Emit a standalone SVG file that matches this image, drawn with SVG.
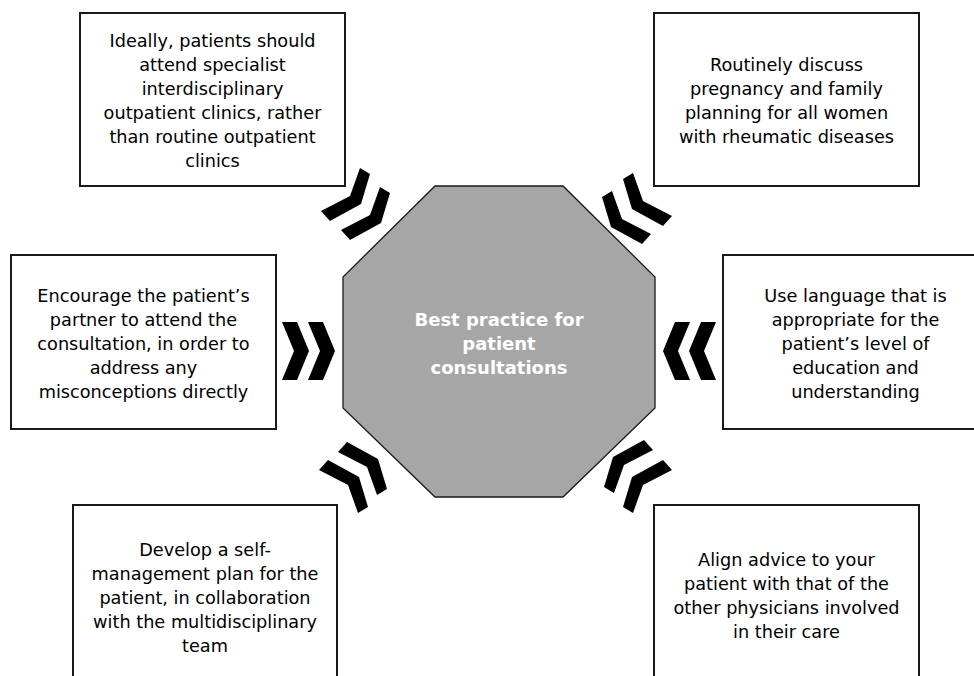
<svg xmlns="http://www.w3.org/2000/svg" width="974" height="676" viewBox="0 0 974 676">
<defs>
<style>
.box{fill:#fff;stroke:#1a1a1a;stroke-width:2}
.t{font-family:"DejaVu Sans",Verdana,sans-serif;font-size:17.7px;fill:#000;text-anchor:middle}
.ct{font-family:"DejaVu Sans",Verdana,sans-serif;font-size:18px;font-weight:bold;fill:#fff;text-anchor:middle}
.chev{fill:#000}
</style>
<polygon id="hchev" points="0,0 -12,-29 -27,-29 -15,0 -27,29 -12,29"/>
<polygon id="dchev" points="0,0 9,-30 -1,-36 -11,-8 -40,7 -31,17"/>
</defs>
<rect width="974" height="676" fill="#fff"/>
<g id="connectors" class="chev">
<use href="#dchev" transform="translate(361,204)"/>
<use href="#dchev" transform="translate(381,223)"/>
<use href="#dchev" transform="translate(632,209) scale(-1,1)"/>
<use href="#dchev" transform="translate(611,227) scale(-1,1)"/>
<use href="#hchev" transform="translate(309,351)"/>
<use href="#hchev" transform="translate(335,351)"/>
<use href="#hchev" transform="translate(663,351) scale(-1,1)"/>
<use href="#hchev" transform="translate(689,351) scale(-1,1)"/>
<use href="#dchev" transform="translate(378,459) scale(1,-1)"/>
<use href="#dchev" transform="translate(359,477) scale(1,-1)"/>
<use href="#dchev" transform="translate(613,457) scale(-1,-1)"/>
<use href="#dchev" transform="translate(632,477) scale(-1,-1)"/>
</g>
<g id="center">
<polygon points="435,186 563,186 655,277 655,408 563,497 435,497 343,408 343,277" fill="#a6a6a6" stroke="#1a1a1a" stroke-width="1.3"/>
<text class="ct" x="499" y="326">Best practice for</text>
<text class="ct" x="499" y="350">patient</text>
<text class="ct" x="499" y="374">consultations</text>
</g>
<g id="box1">
<rect class="box" x="80" y="13" width="265" height="173"/>
<text class="t" x="212.5" y="47">Ideally, patients should</text>
<text class="t" x="212.5" y="71">attend specialist</text>
<text class="t" x="212.5" y="95">interdisciplinary</text>
<text class="t" x="212.5" y="119">outpatient clinics, rather</text>
<text class="t" x="212.5" y="143">than routine outpatient</text>
<text class="t" x="212.5" y="167">clinics</text>
</g>
<g id="box2">
<rect class="box" x="654" y="13" width="265" height="173"/>
<text class="t" x="786.5" y="71">Routinely discuss</text>
<text class="t" x="786.5" y="95">pregnancy and family</text>
<text class="t" x="786.5" y="119">planning for all women</text>
<text class="t" x="786.5" y="143">with rheumatic diseases</text>
</g>
<g id="box3">
<rect class="box" x="11" y="255" width="265" height="174"/>
<text class="t" x="143.5" y="302">Encourage the patient’s</text>
<text class="t" x="143.5" y="326">partner to attend the</text>
<text class="t" x="143.5" y="350">consultation, in order to</text>
<text class="t" x="143.5" y="374">address any</text>
<text class="t" x="143.5" y="398">misconceptions directly</text>
</g>
<g id="box4">
<rect class="box" x="723" y="255" width="265" height="174"/>
<text class="t" x="855.5" y="302">Use language that is</text>
<text class="t" x="855.5" y="326">appropriate for the</text>
<text class="t" x="855.5" y="350">patient’s level of</text>
<text class="t" x="855.5" y="374">education and</text>
<text class="t" x="855.5" y="398">understanding</text>
</g>
<g id="box5">
<rect class="box" x="73" y="505" width="264" height="185"/>
<text class="t" x="205" y="556">Develop a self-</text>
<text class="t" x="205" y="580">management plan for the</text>
<text class="t" x="205" y="604">patient, in collaboration</text>
<text class="t" x="205" y="628">with the multidisciplinary</text>
<text class="t" x="205" y="652">team</text>
</g>
<g id="box6">
<rect class="box" x="654" y="505" width="265" height="185"/>
<text class="t" x="786.5" y="566">Align advice to your</text>
<text class="t" x="786.5" y="590">patient with that of the</text>
<text class="t" x="786.5" y="614">other physicians involved</text>
<text class="t" x="786.5" y="638">in their care</text>
</g>
</svg>
